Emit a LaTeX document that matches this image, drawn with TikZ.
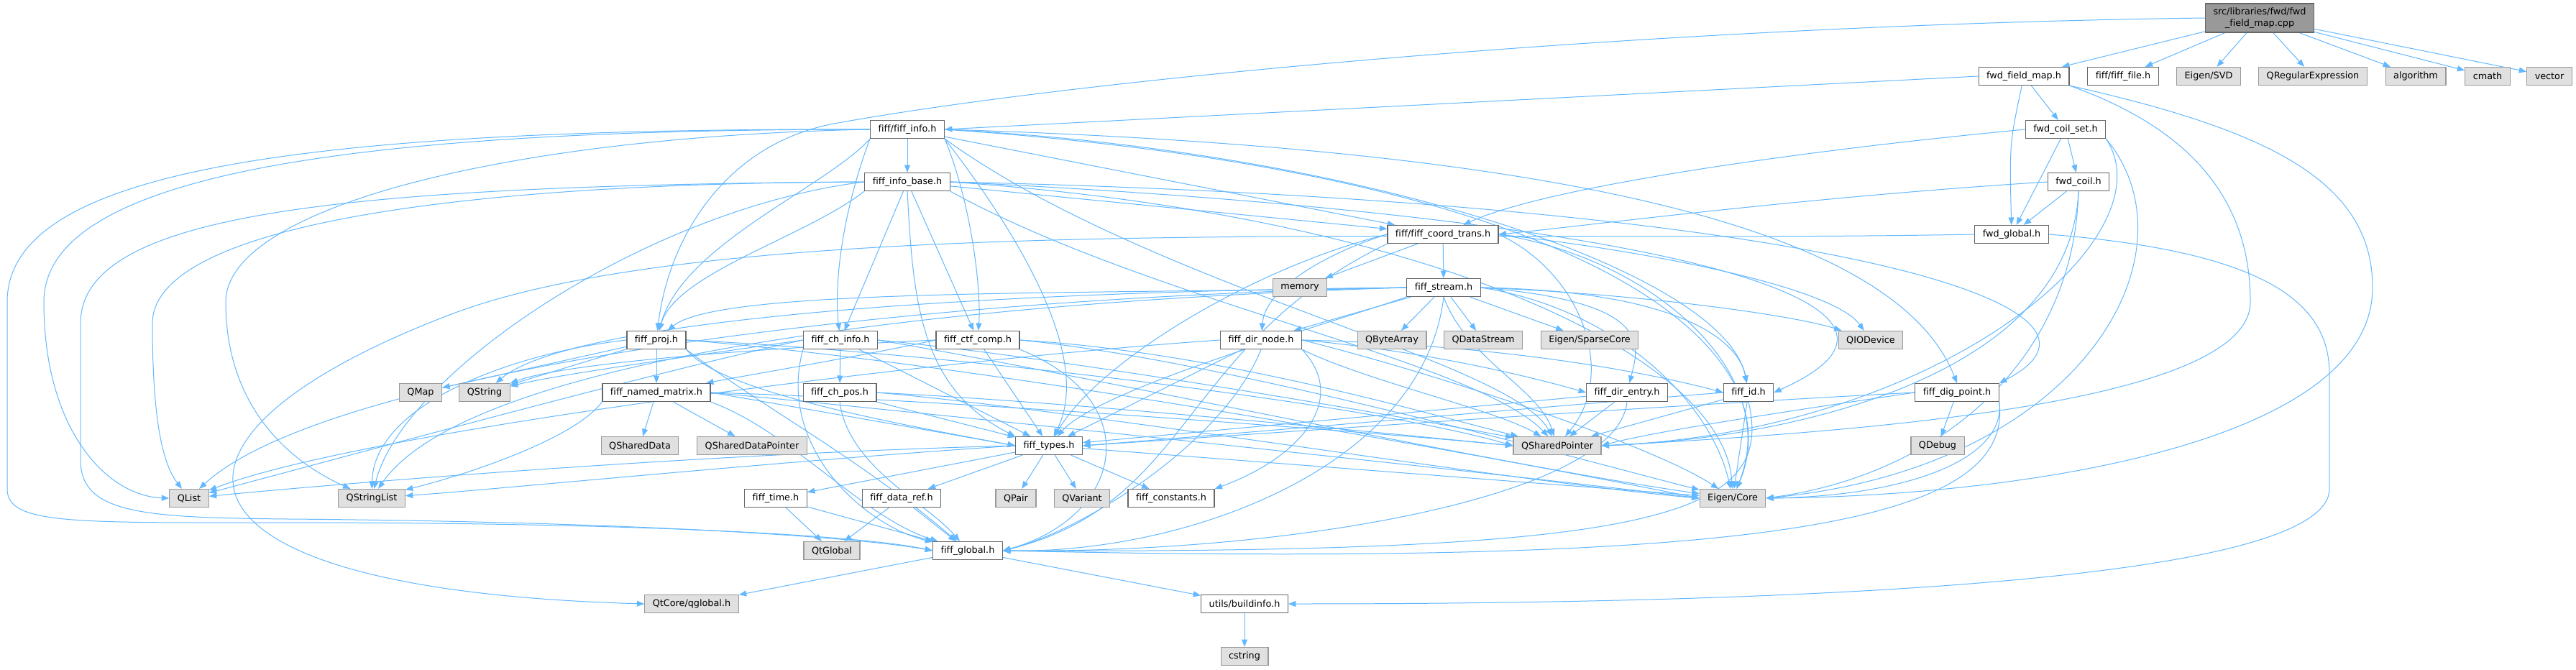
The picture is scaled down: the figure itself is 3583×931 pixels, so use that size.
\documentclass[tikz,border=0pt]{standalone}
\usepackage{fontspec}
\setmainfont{DejaVu Sans}[Ligatures=NoCommon]
\usetikzlibrary{arrows.meta}
\definecolor{kante}{HTML}{63B8FF}
\definecolor{rand}{HTML}{666666}
\definecolor{grau}{HTML}{E0E0E0}
\definecolor{graurand}{HTML}{999999}
\definecolor{dunkel}{HTML}{999999}
\pgfdeclarelayer{bg}
\pgfsetlayers{bg,main}

\begin{document}
\begin{tikzpicture}[x=0.25mm, y=-0.25mm,
    hfile/.style={rectangle, draw=rand, fill=white, line width=0.3mm, minimum height=6.25mm, inner xsep=2.75mm, inner ysep=0pt, font=\fontsize{9.1}{11}\selectfont},
    ext/.style={hfile, draw=graurand, fill=grau},
    srcfile/.style={hfile, draw=rand, fill=dunkel, align=center, minimum height=10mm},
    dep/.style={-{Triangle[length=2.6mm, width=2mm]}, kante, line width=0.25mm},
]

\useasboundingbox (0,0) rectangle (3583,931);

% oberste Reihe
\node[srcfile] (main) at (3143,25) {src/libraries/fwd/fwd\\\_field\_map.cpp};

\node[hfile] (ffmaph) at (2815,106) {fwd\_field\_map.h};
\node[hfile] (filefh) at (2953,106) {fiff/fiff\_file.h};
\node[ext] (svd) at (3072,106) {Eigen/SVD};
\node[ext] (qregex) at (3217,106) {QRegularExpression};
\node[ext] (algo) at (3360,106) {algorithm};
\node[ext] (cmath) at (3460,106) {cmath};
\node[ext] (vector) at (3546,106) {vector};

\node[hfile] (info) at (1262,180) {fiff/fiff\_info.h};
\node[hfile] (coilset) at (2873,180) {fwd\_coil\_set.h};
\node[hfile] (infobase) at (1262,253) {fiff\_info\_base.h};
\node[hfile] (coil) at (2891,253) {fwd\_coil.h};
\node[hfile] (coordtrans) at (2007,326) {fiff/fiff\_coord\_trans.h};
\node[hfile] (fwdglobal) at (2798,326) {fwd\_global.h};
\node[ext] (memory) at (1808,400) {memory};
\node[hfile] (stream) at (2008,400) {fiff\_stream.h};

% mittlere Reihen
\node[hfile] (proj) at (913,473) {fiff\_proj.h};
\node[hfile] (chinfo) at (1169,473) {fiff\_ch\_info.h};
\node[hfile] (ctfcomp) at (1360,473) {fiff\_ctf\_comp.h};
\node[hfile] (dirnode) at (1754,473) {fiff\_dir\_node.h};
\node[ext] (qbytearray) at (1936,473) {QByteArray};
\node[ext] (qdatastream) at (2063,473) {QDataStream};
\node[ext] (sparsecore) at (2211,473) {Eigen/SparseCore};
\node[ext] (qiodevice) at (2602,473) {QIODevice};

\node[ext] (qmap) at (585,546) {QMap};
\node[ext] (qstring) at (674,546) {QString};
\node[hfile] (namedmatrix) at (913,546) {fiff\_named\_matrix.h};
\node[hfile] (chpos) at (1168,546) {fiff\_ch\_pos.h};
\node[hfile] (direntry) at (2263,546) {fiff\_dir\_entry.h};
\node[hfile] (fiffid) at (2432,546) {fiff\_id.h};
\node[hfile] (digpoint) at (2722,546) {fiff\_dig\_point.h};

\node[ext] (qshareddata) at (890,620) {QSharedData};
\node[ext] (qshareddatapointer) at (1046,620) {QSharedDataPointer};
\node[hfile] (types) at (1459,620) {fiff\_types.h};
\node[ext] (qsharedpointer) at (2166,620) {QSharedPointer};
\node[ext] (qdebug) at (2695,620) {QDebug};

% untere Reihen
\node[ext] (qlist) at (263,693) {QList};
\node[ext] (qstringlist) at (517,693) {QStringList};
\node[hfile] (time) at (1079,693) {fiff\_time.h};
\node[hfile] (dataref) at (1254,693) {fiff\_data\_ref.h};
\node[ext] (qpair) at (1413,693) {QPair};
\node[ext] (qvariant) at (1505,693) {QVariant};
\node[hfile] (constants) at (1629,693) {fiff\_constants.h};
\node[ext] (eigencore) at (2410,693) {Eigen/Core};

\node[ext] (qtglobal) at (1157,766) {QtGlobal};
\node[hfile] (fiffglobal) at (1346,766) {fiff\_global.h};
\node[ext] (qtcoreqglobal) at (962,840) {QtCore/qglobal.h};
\node[hfile] (buildinfo) at (1731,840) {utils/buildinfo.h};
\node[ext] (cstring) at (1731,913) {cstring};

\begin{pgfonlayer}{bg}
\fill[white] (0,0) rectangle (3583,931);

% fwd_field_map.cpp
\draw[dep] (main) -- (ffmaph);
\draw[dep] (main) -- (filefh);
\draw[dep] (main) -- (svd);
\draw[dep] (main) -- (qregex);
\draw[dep] (main) -- (algo);
\draw[dep] (main) -- (cmath);
\draw[dep] (main) -- (vector);
\draw[dep] (main.west) .. controls (2300,35) and (1500,110) .. (1160,172) .. controls (1010,200) and (930,330) .. (proj);

% fwd_field_map.h
\draw[dep] (ffmaph.west) -- (info.east);
\draw[dep] (ffmaph) -- (coilset);
\draw[dep] (ffmaph) .. controls (2795,200) .. (fwdglobal);
\draw[dep] (ffmaph.south east) .. controls (3150,180) and (3300,250) .. (3300,400) .. controls (3300,620) and (2800,690) .. (eigencore.east);
\draw[dep] (ffmaph.south east) .. controls (3050,180) and (3130,280) .. (3130,420) .. controls (3130,560) and (2600,600) .. (qsharedpointer.east);

% fwd_coil_set.h
\draw[dep] (coilset) -- (coil);
\draw[dep] (coilset) -- (fwdglobal);
\draw[dep] (coilset.west) .. controls (2500,210) and (2150,260) .. (coordtrans);
\draw[dep] (coilset.south east) .. controls (3060,350) and (2900,650) .. (eigencore.east);
\draw[dep] (coilset.south east) .. controls (3020,330) and (2700,600) .. (qsharedpointer.east);

% fwd_coil.h
\draw[dep] (coil) -- (fwdglobal);
\draw[dep] (coil.west) .. controls (2500,275) and (2200,315) .. (coordtrans.east);
\draw[dep] (coil.south) .. controls (2885,500) and (2700,660) .. (eigencore.east);
\draw[dep] (coil.south) .. controls (2880,520) and (2500,610) .. (qsharedpointer.east);

% fwd_global.h
\draw[dep] (fwdglobal.east) .. controls (3150,350) and (3240,420) .. (3240,520) -- (3240,680) .. controls (3240,800) and (2600,840) .. (buildinfo.east);
\draw[dep] (fwdglobal.west) .. controls (2000,340) and (1000,290) .. (620,440) .. controls (180,610) and (200,820) .. (qtcoreqglobal.west);

% fiff_info.h
\draw[dep] (info) -- (infobase);
\draw[dep] (info) -- (coordtrans);
\draw[dep] (info.south west) .. controls (1150,260) and (950,340) .. (proj);
\draw[dep] (info.south west) .. controls (1170,300) and (1160,400) .. (chinfo);
\draw[dep] (info.south east) .. controls (1350,280) and (1365,400) .. (ctfcomp);
\draw[dep] (info.south east) .. controls (1420,330) and (1520,500) .. (types);
\draw[dep] (info.east) .. controls (2300,210) and (2650,350) .. (digpoint.north);
\draw[dep] (info.east) .. controls (1900,210) and (2400,380) .. (fiffid);
\draw[dep] (info.east) .. controls (2200,240) and (2500,480) .. (eigencore);
\draw[dep] (info.south east) .. controls (1600,400) and (2100,500) .. (qsharedpointer);
\draw[dep] (info.west) .. controls (500,180) and (61,240) .. (61,420) .. controls (61,600) and (150,690) .. (qlist.west);
\draw[dep] (info.west) .. controls (700,190) and (314,290) .. (314,420) .. controls (314,580) and (420,650) .. (qstringlist);
\draw[dep] (info.west) .. controls (400,178) and (10,240) .. (10,420) -- (10,680) .. controls (10,730) and (100,727) .. (400,727) .. controls (900,727) and (1200,745) .. (fiffglobal.west);

% fiff_info_base.h
\draw[dep] (infobase.south west) .. controls (1120,330) and (940,380) .. (proj);
\draw[dep] (infobase) -- (chinfo);
\draw[dep] (infobase) -- (ctfcomp);
\draw[dep] (infobase) -- (coordtrans);
\draw[dep] (infobase.south) .. controls (1270,420) and (1280,540) .. (types.north west);
\draw[dep] (infobase.east) .. controls (2300,300) and (2750,420) .. (fiffid.east);
\draw[dep] (infobase.east) .. controls (2500,280) and (3000,420) .. (digpoint.north east);
\draw[dep] (infobase.east) .. controls (2000,300) and (2400,500) .. (eigencore);
\draw[dep] (infobase.south east) .. controls (1600,420) and (2050,500) .. (qsharedpointer);
\draw[dep] (infobase.west) .. controls (600,255) and (212,320) .. (212,450) .. controls (212,600) and (230,650) .. (qlist);
\draw[dep] (infobase.west) .. controls (450,258) and (112,300) .. (112,450) -- (112,640) .. controls (112,715) and (200,720) .. (400,722) .. controls (900,726) and (1200,748) .. (fiffglobal.west);
\draw[dep] (infobase.west) .. controls (900,290) and (560,520) .. (qstringlist);

% fiff_coord_trans.h
\draw[dep] (coordtrans) -- (memory);
\draw[dep] (coordtrans) -- (stream);
\draw[dep] (coordtrans.west) .. controls (1850,350) and (1760,400) .. (dirnode);
\draw[dep] (coordtrans.west) .. controls (1750,370) and (1530,500) .. (types);
\draw[dep] (coordtrans.south west) .. controls (1640,480) and (1660,700) .. (fiffglobal.east);
\draw[dep] (coordtrans.east) .. controls (2300,360) and (2480,520) .. (eigencore);
\draw[dep] (coordtrans.east) .. controls (2200,380) and (2250,520) .. (qsharedpointer);
\draw[dep] (coordtrans.east) .. controls (2300,350) and (2550,400) .. (qiodevice);

% fiff_stream.h
\draw[dep] (stream) -- (dirnode);
\draw[dep] (stream) -- (qbytearray);
\draw[dep] (stream) -- (qdatastream);
\draw[dep] (stream) -- (sparsecore);
\draw[dep] (stream.east) .. controls (2300,410) and (2500,440) .. (qiodevice);
\draw[dep] (stream.east) .. controls (2300,420) and (2280,480) .. (direntry);
\draw[dep] (stream.east) .. controls (2350,405) and (2420,480) .. (fiffid);
\draw[dep] (stream.south west) .. controls (1850,450) and (1530,540) .. (types);
\draw[dep] (stream.south) .. controls (1980,650) and (1650,770) .. (fiffglobal.east);
\draw[dep] (stream.west) .. controls (1500,410) and (1000,400) .. (proj);
\draw[dep] (stream.west) .. controls (1200,415) and (450,520) .. (qlist);
\draw[dep] (stream.west) .. controls (1300,420) and (650,500) .. (qstringlist);
\draw[dep] (stream.west) .. controls (1400,405) and (800,440) .. (qstring);
\draw[dep] (stream.south) .. controls (2040,500) and (2140,540) .. (qsharedpointer);
\draw[dep] (stream.east) .. controls (2250,430) and (2380,560) .. (eigencore);

% fiff_proj.h
\draw[dep] (proj) -- (qmap);
\draw[dep] (proj) -- (qstring);
\draw[dep] (proj) -- (namedmatrix);
\draw[dep] (proj.west) .. controls (720,490) and (520,560) .. (qstringlist);
\draw[dep] (proj.south east) .. controls (1000,545) and (1250,590) .. (types.west);
\draw[dep] (proj.south east) .. controls (1050,560) and (1200,640) .. (fiffglobal);
\draw[dep] (proj.east) .. controls (1300,490) and (1900,560) .. (qsharedpointer.west);
\draw[dep] (proj.east) .. controls (1400,510) and (2100,640) .. (eigencore.west);

% fiff_ch_info.h
\draw[dep] (chinfo) -- (chpos);
\draw[dep] (chinfo) -- (types);
\draw[dep] (chinfo.west) .. controls (1000,490) and (780,520) .. (qstring);
\draw[dep] (chinfo.west) .. controls (900,520) and (500,630) .. (qlist);
\draw[dep] (chinfo.south west) .. controls (1080,620) and (1200,730) .. (fiffglobal);
\draw[dep] (chinfo.east) .. controls (1500,500) and (1950,580) .. (qsharedpointer);
\draw[dep] (chinfo.east) .. controls (1500,520) and (2100,650) .. (eigencore);

% fiff_ctf_comp.h
\draw[dep] (ctfcomp.west) .. controls (1200,495) and (1050,520) .. (namedmatrix);
\draw[dep] (ctfcomp) -- (types);
\draw[dep] (ctfcomp.west) .. controls (1150,480) and (800,500) .. (qstring);
\draw[dep] (ctfcomp.south east) .. controls (1600,560) and (1560,720) .. (fiffglobal.east);
\draw[dep] (ctfcomp.east) .. controls (1700,490) and (2000,580) .. (qsharedpointer);
\draw[dep] (ctfcomp.east) .. controls (1700,500) and (2200,640) .. (eigencore);

% fiff_dir_node.h
\draw[dep] (dirnode.east) .. controls (2000,490) and (2150,530) .. (direntry.west);
\draw[dep] (dirnode.east) .. controls (2100,480) and (2300,520) .. (fiffid.west);
\draw[dep] (dirnode) -- (types);
\draw[dep] (dirnode.south east) .. controls (1880,560) and (1800,640) .. (constants.north east);
\draw[dep] (dirnode.south) .. controls (1700,620) and (1500,740) .. (fiffglobal.east);
\draw[dep] (dirnode.west) .. controls (1300,500) and (500,600) .. (qlist);
\draw[dep] (dirnode.south east) .. controls (1900,530) and (2080,570) .. (qsharedpointer);
\draw[dep] (dirnode.east) .. controls (2000,520) and (2300,620) .. (eigencore);

% fiff_named_matrix.h
\draw[dep] (namedmatrix) -- (qshareddata);
\draw[dep] (namedmatrix) -- (qshareddatapointer);
\draw[dep] (namedmatrix.south west) .. controls (800,610) and (650,660) .. (qstringlist);
\draw[dep] (namedmatrix.east) .. controls (1100,565) and (1300,600) .. (types.west);
\draw[dep] (namedmatrix.south east) .. controls (1100,600) and (1200,720) .. (fiffglobal);
\draw[dep] (namedmatrix.east) .. controls (1300,575) and (2100,660) .. (eigencore.west);
\draw[dep] (namedmatrix.east) .. controls (1300,555) and (1900,600) .. (qsharedpointer.west);

% fiff_ch_pos.h
\draw[dep] (chpos) -- (types);
\draw[dep] (chpos.south) .. controls (1180,650) and (1290,700) .. (fiffglobal);
\draw[dep] (chpos.east) .. controls (1500,560) and (1900,600) .. (qsharedpointer.west);
\draw[dep] (chpos.east) .. controls (1500,570) and (2100,670) .. (eigencore.west);

% fiff_dir_entry.h
\draw[dep] (direntry) -- (types);
\draw[dep] (direntry) -- (qsharedpointer);
\draw[dep] (direntry.south) .. controls (2250,690) and (1800,770) .. (fiffglobal.east);

% fiff_id.h
\draw[dep] (fiffid.west) .. controls (2100,570) and (1700,605) .. (types.east);
\draw[dep] (fiffid) -- (qsharedpointer);
\draw[dep] (fiffid) -- (eigencore);
\draw[dep] (fiffid.south) .. controls (2470,720) and (2300,770) .. (fiffglobal.east);

% fiff_dig_point.h
\draw[dep] (digpoint) -- (qdebug);
\draw[dep] (digpoint.west) .. controls (2300,565) and (1800,600) .. (types.east);
\draw[dep] (digpoint.west) .. controls (2500,570) and (2300,600) .. (qsharedpointer.east);
\draw[dep] (digpoint.south east) .. controls (2790,640) and (2650,690) .. (eigencore.east);
\draw[dep] (digpoint.south east) .. controls (2800,720) and (2500,790) .. (fiffglobal.east);

% fiff_types.h
\draw[dep] (types) -- (time);
\draw[dep] (types) -- (dataref);
\draw[dep] (types) -- (qpair);
\draw[dep] (types) -- (qvariant);
\draw[dep] (types) -- (constants);
\draw[dep] (types) -- (eigencore);
\draw[dep] (types.west) .. controls (1000,630) and (500,670) .. (qlist);
\draw[dep] (types.west) .. controls (1100,640) and (700,680) .. (qstringlist);

% untere Dateien
\draw[dep] (time) -- (qtglobal);
\draw[dep] (time) -- (fiffglobal);
\draw[dep] (dataref) -- (qtglobal);
\draw[dep] (dataref) -- (fiffglobal);
\draw[dep] (fiffglobal) -- (qtcoreqglobal);
\draw[dep] (fiffglobal) -- (buildinfo);
\draw[dep] (buildinfo) -- (cstring);
\end{pgfonlayer}

\end{tikzpicture}
\end{document}
